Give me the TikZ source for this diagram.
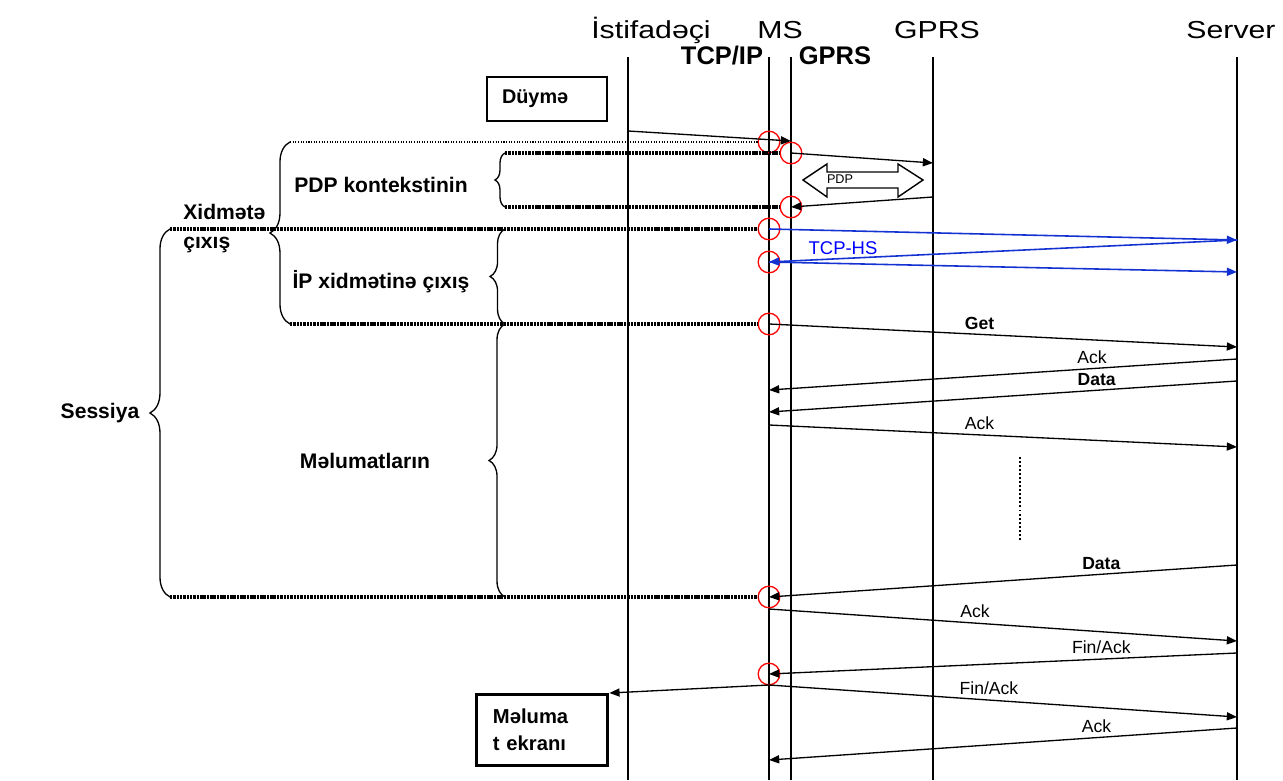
\documentclass[tikz,border=0pt]{standalone}
\usepackage{fontspec}
\usepackage{graphicx}
\setmainfont{Liberation Sans}
\usetikzlibrary{arrows.meta, decorations.pathreplacing}
\definecolor{hsblue}{RGB}{20, 50, 210}
\definecolor{hstext}{RGB}{0, 0, 255}
\newcommand{\wide}[1]{\scalebox{1.23}[1]{#1}}

\tikzset{
  life/.style={line width=0.8pt},
  msg/.style={line width=0.75pt, -{Triangle[length=5.8pt, width=4.6pt]}},
  blu/.style={msg, draw=hsblue, line width=0.9pt},
  lbl/.style={above, inner sep=2.5pt, font=\fontsize{10}{12}\selectfont},
  lblb/.style={lbl, font=\fontsize{10}{12}\selectfont\bfseries},
  evt/.style={circle, draw=red, line width=0.75pt, minimum size=12.3pt, inner sep=0pt},
  hdr/.style={anchor=base, inner sep=0pt, font=\fontsize{14}{16}\selectfont},
  sub/.style={anchor=base, inner sep=0pt, font=\fontsize{14.5}{16}\selectfont\bfseries},
  side/.style={inner sep=0pt, font=\fontsize{12}{16.5}\selectfont\bfseries},
  brc/.style={decorate, decoration={brace, amplitude=#1}, line width=0.75pt},
  brc/.default=10pt,
  dotthick/.style={line width=2pt, dash pattern=on 1.4pt off 0.5pt},
  dotthin/.style={line width=0.8pt, dash pattern=on 0.6pt off 0.9pt},
  vdots/.style={line width=1.1pt, dash pattern=on 1.1pt off 1.2pt},
  knop/.style={draw, line width=0.75pt, minimum width=68.3pt, minimum height=25pt,
    inner sep=2pt, align=left, font=\fontsize{11.3}{13}\selectfont\bfseries},
}

\begin{document}
\begin{tikzpicture}[x=0.02cm, y=-0.02cm]
  \useasboundingbox (0,0) rectangle (1283,780);

  % lifelines
  \foreach \nm/\xx in {ist/628, tcp/769, gp/791, sgsn/933, srv/1237} {
    \coordinate (\nm) at (\xx,57);
    \coordinate (\nm b) at (\xx,780);
    \draw[life] (\nm) -- (\nm b);
  }

  % headers
  \node[hdr] (hist) at (651,39) {\wide{İstifadəçi}};
  \node[hdr] (hms) at (780,39) {\wide{MS}};
  \node[hdr] (hgprs) at (937,39) {\wide{GPRS}};
  \node[hdr] (hsrv) at (1231,39) {\wide{Server}};
  \node[sub] (htcp) at (722,65) {TCP/IP};
  \node[sub] (hgp) at (835,65) {GPRS};

  % boxes
  \node[knop, text width=51.2pt] (duyme) at (547,99) {Düymə};
  \node[knop, line width=1.7pt, text width=55.8pt, minimum width=75pt,
    minimum height=40.4pt, font=\fontsize{11.5}{15.4}\selectfont\bfseries]
    (ekran) at (542,730) {Məluma\\t ekranı};

  % red marks
  \foreach \nm/\xx/\yy in {c1/769/142, c2/791/153, c3/791/207, c4/769/229,
      c5/769/262, c6/769/324, c7/769/597, c8/769/674}
    \node[evt] (\nm) at (\xx,\yy) {};

  % end points on the lifelines
  \foreach \nm/\yy in {s1/240, s2/272, s3/347, s4/359, s5/381, s6/447,
      s7/565, s8/641, s9/653, s10/717, s11/728}
    \coordinate (\nm) at (1237,\yy);
  \foreach \nm/\yy in {m1/390, m2/412, m3/425, m4/609, m5/685, m6/760}
    \coordinate (\nm) at (769,\yy);
  \coordinate (i1) at (628,131);
  \coordinate (g1) at (791,141);
  \coordinate (n1) at (933,163);
  \coordinate (n2) at (933,197);

  % PDP context
  \draw[msg] (i1) -- (g1);
  \draw[msg] (c2.center) -- (n1);
  \draw[msg] (n2) -- (c3.center);
  \draw[line width=0.8pt] (803,180) -- (827,164) -- (827,172) -- (898,172)
    -- (898,164) -- (923,180) -- (898,197) -- (898,188) -- (827,188)
    -- (827,197) -- cycle;
  \node[font=\fontsize{7.2}{8}\selectfont] (pdp) at (840,179) {PDP};

  % TCP handshake
  \draw[blu] (c4.center) -- (s1);
  \draw[blu] (s1) -- (c5.center);
  \draw[blu] (c5.center) -- (s2);
  \node[font=\fontsize{10.5}{12}\selectfont, text=hstext] (tcphs) at (843,248) {TCP-HS};

  % data exchange
  \draw[msg] (c6.center) -- (s3) node[lblb, pos=0.45] {Get};
  \draw[msg] (s4) -- (m1) node[lbl, pos=0.31] {Ack};
  \draw[msg] (s5) -- (m2) node[lblb, pos=0.30] {Data};
  \draw[msg] (m3) -- (s6) node[lbl, pos=0.45] {Ack};
  \coordinate (v1) at (1020,457);
  \coordinate (v2) at (1020,540);
  \draw[vdots] (v1) -- (v2);
  \draw[msg] (s7) -- (c7.center) node[lblb, pos=0.29] {Data};
  \draw[msg] (m4) -- (s8) node[lbl, pos=0.44] {Ack};
  \draw[msg] (s9) -- (c8.center) node[lbl, pos=0.29] {Fin/Ack};
  \draw[msg] (m5) -- (ekran.north east);
  \draw[msg] (m5) -- (s10) node[lbl, pos=0.47] {Fin/Ack};
  \draw[msg] (s11) -- (m6) node[lbl, pos=0.30] {Ack};

  % braces
  \coordinate (xt) at (290,142);
  \coordinate (xb) at (290,324);
  \coordinate (pt) at (505,153);
  \coordinate (pb) at (505,207);
  \coordinate (it) at (505,229);
  \coordinate (ib) at (505,324);
  \coordinate (dt) at (505,324);
  \coordinate (db) at (505,597);
  \coordinate (st) at (170,229);
  \coordinate (sb) at (170,597);
  \draw[brc=11.4pt] (xb) -- (xt);
  \draw[brc=5.7pt] (pb) -- (pt);
  \draw[brc=8.5pt] (ib) -- (it);
  \draw[brc=9.1pt] (db) -- (dt);
  \draw[brc=11.4pt] (sb) -- (st);
  \draw[dotthin] (xt) -- (c1);
  \draw[dotthick] (pt) -- (c2);
  \draw[dotthick] (pb) -- (c3);
  \draw[dotthick] (st) -- (c4);
  \draw[dotthick] (xb) -- (c6);
  \draw[dotthick] (sb) -- (c7);

  % phase labels
  \node[side] (lpdp) at (381,185) {PDP kontekstinin};
  \node[side, anchor=west, align=left] (lxid) at (183,228.5) {Xidmətə\\çıxış};
  \node[side] (lip) at (381,282) {İP xidmətinə çıxış};
  \node[side] (lses) at (100,413) {Sessiya};
  \node[side] (lmel) at (365,461) {Məlumatların};
\end{tikzpicture}
\end{document}
